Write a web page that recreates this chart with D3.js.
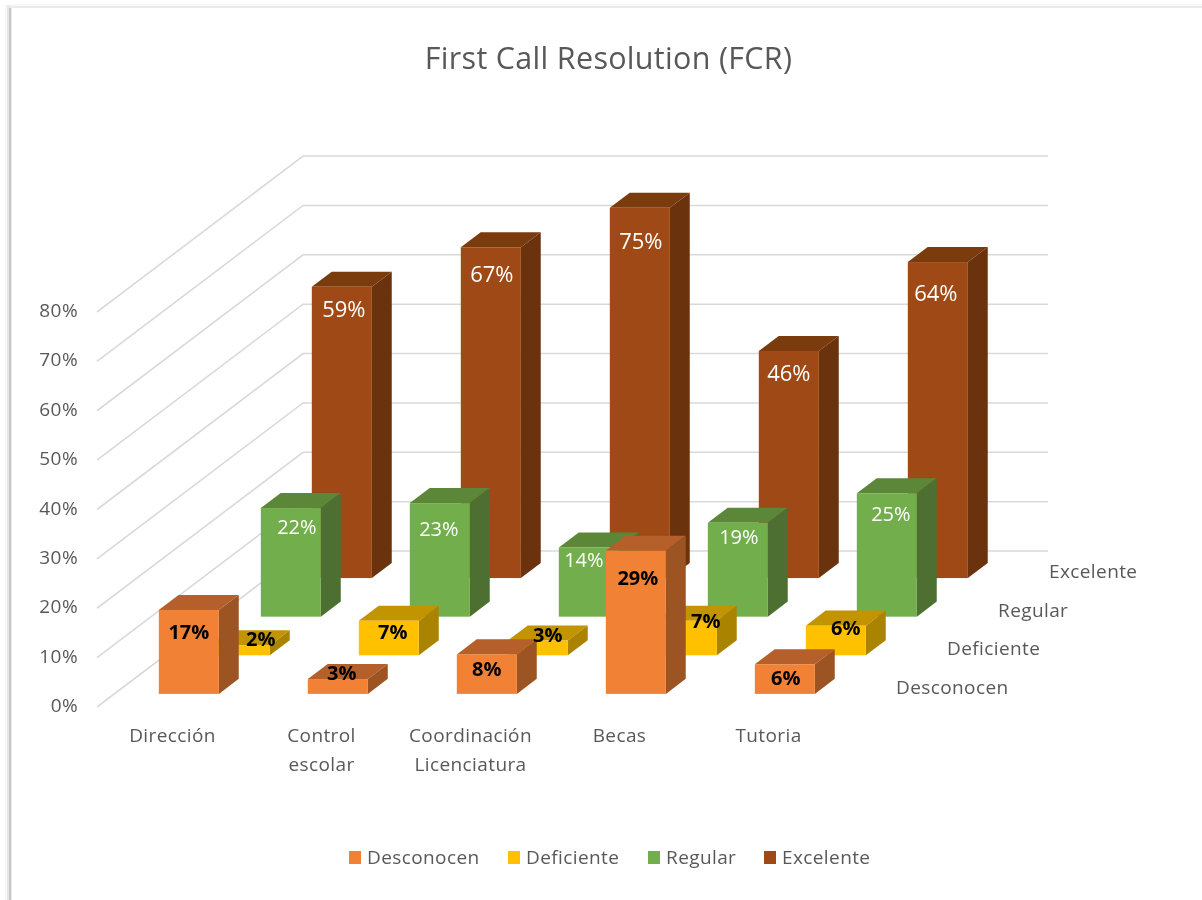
<!DOCTYPE html>
<html>
  <head>
    <meta charset="utf-8" />
    <title>First Call Resolution (FCR)</title>
    <script src="https://d3js.org/d3.v7.min.js"></script>
    <style>
      html, body { margin: 0; padding: 0; background: #fff; }
      text { font-family: "Open Sans", sans-serif; }
    </style>
  </head>

  <body>
    <svg width="1202" height="900" id="chart"></svg>

    <script>
        //data
        var categories = [["Dirección"], ["Control", "escolar"], ["Coordinación", "Licenciatura"], ["Becas"], ["Tutoria"]];
        var seriesNames = ["Desconocen", "Deficiente", "Regular", "Excelente"];
        var desconocen = [17, 3, 8, 29, 6];
        var deficiente = [2, 7, 3, 7, 6];
        var regular = [22, 23, 14, 19, 25];
        var excelente = [59, 67, 75, 46, 64];
        var yTicks = [0, 10, 20, 30, 40, 50, 60, 70, 80];

        var seriesValues = [desconocen, deficiente, regular, excelente];

        //front, top and side colour of each series
        var frontColors = ["#f08136", "#ffc000", "#72ae4b", "#9e4a12"];
        var topColors = ["#b5602a", "#c29406", "#5c8639", "#7a3a10"];
        var sideColors = ["#9c5423", "#aa8402", "#4e7030", "#6b320d"];
        var labelColors = ["#000", "#000", "#fff", "#fff"];
        var labelWeights = ["700", "700", "400", "400"];
        var labelSizes = ["20px", "20px", "20px", "22px"];

        //labels were moved by hand in the original, so keep [dx, dy] from bar centre/top
        var labelNudge = [
            [[0, 22], [4, -6], [0, 14], [2, 27], [1, 14]],
            [[21, -7], [4, 11], [10, -6], [19, 0], [10, 2]],
            [[6, 19], [-1, 26], [-5, 12], [1, 14], [4, 21]],
            [[2, 22], [1, 27], [1, 33], [0, 22], [-2, 31]]
        ];

        var svg = d3.select("#chart");

        //sheet edge with a soft shadow on the left and a faint one on top
        var edges = [
            [5, 5, 2, 900, "#f7f7f7"],
            [7, 5, 2, 900, "#e8e8e8"],
            [9, 6, 2, 900, "#c6c6c6"],
            [11, 7, 1, 900, "#ececec"],
            [9, 4, 1300, 2, "#f8f8f8"],
            [9, 6, 1300, 2, "#ebebeb"]
        ];
        svg.append("g").selectAll("rect")
            .data(edges)
            .enter().append("rect")
            .attr("x", function(d) { return d[0]; })
            .attr("y", function(d) { return d[1]; })
            .attr("width", function(d) { return d[2]; })
            .attr("height", function(d) { return d[3]; })
            .style("fill", function(d) { return d[4]; });

        //the reference is a slightly soft screenshot
        svg.append("defs").append("filter").attr("id", "soft")
            .attr("filterUnits", "userSpaceOnUse")
            .attr("x", 0).attr("y", 0).attr("width", 1202).attr("height", 900)
            .append("feGaussianBlur").attr("stdDeviation", 0.55);

        var chart = svg.append("g").style("filter", "url(#soft)");

        //scales: one for the categories, one for the height, one for the depth rows
        var frontLeft = 97, frontRight = 842, frontFloor = 707;
        var x = d3.scaleBand()
            .domain(d3.range(categories.length))
            .range([frontLeft, frontRight])
            .paddingInner(0.597)
            .paddingOuter(0.2985);
        var h = d3.scaleLinear().domain([0, 80]).range([0, 395]);
        //one unit of depth is one row of bars
        var depthX = d3.scaleLinear().domain([0, 4]).range([0, 204]);
        var depthY = d3.scaleLinear().domain([0, 4]).range([0, -154.4]);
        var rowDepth = function(i) { return i + 0.34; };
        var barDepth = 0.39; //how deep one bar is, in rows
        var wallDepth = 4.04;

        //gridlines on both walls
        var backX = frontLeft + depthX(wallDepth), backY = frontFloor + depthY(wallDepth);
        chart.append("g").selectAll("polyline")
            .data(yTicks)
            .enter().append("polyline")
            .attr("points", function(d) {
                return [
                    [frontLeft, frontFloor - h(d)],
                    [backX, backY - h(d)],
                    [backX + (frontRight - frontLeft), backY - h(d)]
                ].join(" ");
            })
            .style("fill", "none")
            .style("stroke", "#d9d9d9")
            .style("stroke-width", 1.6);

        //draw bars from the back row to the front row so they overlap properly
        function pts(list) { return list.map(function(p) { return p.join(","); }).join(" "); }

        d3.range(seriesValues.length).reverse().forEach(function(s) {
            var row = chart.append("g").attr("class", "row-" + s);
            var dx = depthX(rowDepth(s)), floor = frontFloor + depthY(rowDepth(s));
            var ox = depthX(barDepth), oy = depthY(barDepth);
            var w = x.bandwidth();

            var bars = row.selectAll("g")
                .data(seriesValues[s])
                .enter().append("g");

            //top
            bars.append("polygon")
                .attr("points", function(d, i) {
                    var l = x(i) + dx, t = floor - h(d);
                    return pts([[l, t], [l + ox, t + oy], [l + w + ox, t + oy], [l + w, t]]);
                })
                .style("fill", topColors[s]);
            //side
            bars.append("polygon")
                .attr("points", function(d, i) {
                    var r = x(i) + dx + w, t = floor - h(d);
                    return pts([[r, t], [r + ox, t + oy], [r + ox, floor + oy], [r, floor]]);
                })
                .style("fill", sideColors[s]);
            //front
            bars.append("rect")
                .attr("x", function(d, i) { return x(i) + dx; })
                .attr("y", function(d) { return floor - h(d); })
                .attr("width", w)
                .attr("height", function(d) { return h(d); })
                .style("fill", frontColors[s]);
        });

        //data labels go last, they sit on top of every bar
        seriesValues.forEach(function(values, s) {
            var dx = depthX(rowDepth(s)), floor = frontFloor + depthY(rowDepth(s));
            chart.append("g").selectAll("text")
                .data(values)
                .enter().append("text")
                .attr("x", function(d, i) { return x(i) + dx + x.bandwidth() / 2 + labelNudge[s][i][0]; })
                .attr("y", function(d, i) { return floor - h(d) + labelNudge[s][i][1]; })
                .attr("text-anchor", "middle")
                .attr("dy", "0.36em")
                .style("font-size", labelSizes[s])
                .style("font-weight", labelWeights[s])
                .style("fill", labelColors[s])
                .text(function(d) { return d + "%"; });
        });

        //value axis, no line and no tick marks
        var yAxis = d3.axisLeft(
                d3.scaleLinear().domain([0, 80]).range([705.5, 310.5]))
            .tickValues(yTicks)
            .tickSize(0)
            .tickPadding(0)
            .tickFormat(function(d) { return d + "%"; });
        var yGroup = chart.append("g")
            .attr("transform", "translate(78,0)")
            .call(yAxis);
        yGroup.select(".domain").remove();
        yGroup.selectAll("text")
            .style("font-family", '"Open Sans", sans-serif')
            .style("font-size", "19px")
            .style("letter-spacing", "0.4px")
            .style("fill", "#595959");

        //category labels
        var catLabels = chart.append("g").selectAll("text")
            .data(categories)
            .enter().append("text")
            .attr("x", function(d, i) { return x(i) + x.bandwidth() / 2 + 1; })
            .attr("y", 742)
            .attr("text-anchor", "middle")
            .style("font-size", "19px")
            .style("letter-spacing", "0.4px")
            .style("fill", "#595959");
        catLabels.selectAll("tspan")
            .data(function(d) { return d; })
            .enter().append("tspan")
            .attr("x", function() { return d3.select(this.parentNode).attr("x"); })
            .attr("dy", function(d, i) { return i ? 28.5 : 0; })
            .text(function(d) { return d; });

        //row names on the depth axis
        chart.append("g").selectAll("text")
            .data(seriesNames)
            .enter().append("text")
            .attr("x", function(d, i) { return 896 + depthX(i); })
            .attr("y", function(d, i) { return 694 + depthY(i); })
            .style("font-size", "19px")
            .style("letter-spacing", "0.4px")
            .style("fill", "#595959")
            .text(function(d) { return d; });

        //title
        chart.append("text")
            .attr("x", 608.5)
            .attr("y", 69)
            .attr("text-anchor", "middle")
            .style("font-size", "30.5px")
            .style("letter-spacing", "0.3px")
            .style("fill", "#595959")
            .text("First Call Resolution (FCR)");

        //legend
        var legendX = [349, 508, 648, 764];
        var legend = chart.append("g").selectAll("g")
            .data(seriesNames)
            .enter().append("g")
            .attr("transform", function(d, i) { return "translate(" + legendX[i] + ",851)"; });
        legend.append("rect")
            .attr("width", 12).attr("height", 13)
            .style("fill", function(d, i) { return frontColors[i]; });
        legend.append("text")
            .attr("x", 18)
            .attr("y", 13)
            .style("font-size", "19px")
            .style("letter-spacing", "0.4px")
            .style("fill", "#595959")
            .text(function(d) { return d; });
    </script>
  </body>
</html>
